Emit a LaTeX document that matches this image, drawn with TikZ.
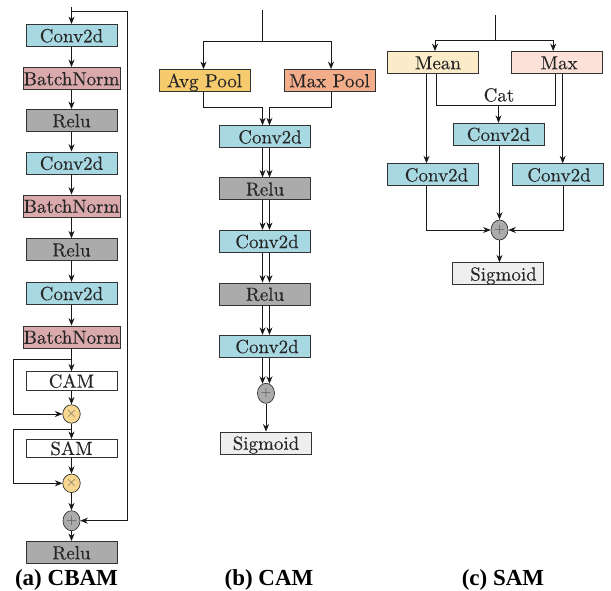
\documentclass[tikz,border=0pt]{standalone}
\usepackage{fontspec}
\newfontfamily\capfont{Liberation Serif Bold}
\newfontfamily\boxfont{lmroman10-regular.otf}[FakeBold=0.2]
\usetikzlibrary{arrows.meta,shapes.geometric,calc}
\definecolor{cblue}{HTML}{A8D8E2}
\definecolor{cpink}{HTML}{D9A9AB}
\definecolor{cgray}{HTML}{ABABAB}
\definecolor{cgold}{HTML}{F5CB6E}
\definecolor{csalmon}{HTML}{F2AD8B}
\definecolor{ccream}{HTML}{FCEBC8}
\definecolor{clpink}{HTML}{FCE1D8}
\definecolor{csig}{HTML}{EEEEEE}
\definecolor{cmul}{HTML}{F7D690}
\begin{document}
\begin{tikzpicture}[x=1pt,y=-1pt,
  box/.style={draw=black!80, line width=0.8pt, minimum width=91pt, minimum height=22pt,
    inner sep=0pt, font=\boxfont\fontsize{19}{19}\selectfont, text height=13.5pt, text depth=0pt, text=black!85},
  mulc/.style={ellipse, draw=black!80, line width=0.7pt, fill=cmul, minimum width=17.5pt,
    minimum height=18.5pt, inner sep=0pt, text=black!60, font=\fontsize{14}{14}\selectfont},
  addc/.style={ellipse, draw=black!80, line width=0.7pt, fill=cgray, minimum width=17pt,
    minimum height=20pt, inner sep=0pt, text=black!70, font=\fontsize{14}{14}\selectfont},
  arr/.style={-{Stealth[length=7.5pt,width=6pt]}, line width=0.75pt, draw=black!90},
  ln/.style={line width=0.75pt, draw=black!90},
  lab/.style={font=\boxfont\fontsize{19}{19}\selectfont, text=black!85, inner sep=0pt},
  captxt/.style={font=\capfont\fontsize{23}{23}\selectfont, inner sep=0pt, anchor=base}
]
\useasboundingbox (0,0) rectangle (611,590);

% ---------------- (a) CBAM ----------------
\node[box,fill=cblue] (a1) at (71.5,35.5) {Conv2d};
\node[box,fill=cpink,minimum width=97pt] (a2) at (71.5,78.5) {BatchNorm};
\node[box,fill=cgray] (a3) at (71.5,120.5) {Relu};
\node[box,fill=cblue] (a4) at (71.5,163) {Conv2d};
\node[box,fill=cpink,minimum width=97pt] (a5) at (71.5,206) {BatchNorm};
\node[box,fill=cgray] (a6) at (71.5,249.7) {Relu};
\node[box,fill=cblue] (a7) at (71.5,293.3) {Conv2d};
\node[box,fill=cpink,minimum width=97pt] (a8) at (71.5,337) {BatchNorm};
\node[box,fill=white,minimum height=18.5pt,text height=13.3pt] (cam) at (71.5,381) {CAM};
\node[mulc] (m1) at (71.5,414) {$\times$};
\node[box,fill=white,minimum height=18pt,text height=13.3pt] (sam) at (71.5,448.3) {SAM};
\node[mulc] (m2) at (71.5,483.3) {$\times$};
\node[addc] (p1) at (71.5,520.7) {$+$};
\node[box,fill=cgray] (a9) at (71.5,552.5) {Relu};

\coordinate (ina) at (71.5,7);
\coordinate (ta) at (127,11.7);
\draw[arr] (ina) -- (a1.north);
\draw[arr] (ina |- ta) -- (ta) |- (p1.east);
\draw[arr] (a1) -- (a2);
\draw[arr] (a2) -- (a3);
\draw[arr] (a3) -- (a4);
\draw[arr] (a4) -- (a5);
\draw[arr] (a5) -- (a6);
\draw[arr] (a6) -- (a7);
\draw[arr] (a7) -- (a8);
\draw[arr] (a8) -- (cam);
\coordinate (la) at (13,359);
\draw[arr] (a8.south |- la) -- (la) |- (m1.west);
\draw[arr] (cam) -- (m1);
\draw[arr] (m1) -- (sam);
\coordinate (lb) at (13,429.3);
\draw[arr] (m1.south |- lb) -- (lb) |- (m2.west);
\draw[arr] (sam) -- (m2);
\draw[arr] (m2) -- (p1);
\draw[arr] (p1) -- (a9);

% ---------------- (b) CAM ----------------
\node[box,fill=cgold] (avg) at (204.5,80.5) {Avg Pool};
\node[box,fill=csalmon] (mxp) at (329.5,80.5) {Max Pool};
\node[box,fill=cblue] (cb1) at (265,136.7) {\hspace*{10pt}Conv2d};
\node[box,fill=cgray] (rb1) at (265,188.8) {Relu};
\node[box,fill=cblue] (cb2) at (265,241.3) {\hspace*{4pt}Conv2d};
\node[box,fill=cgray] (rb2) at (265,294) {Relu};
\node[box,fill=cblue] (cb3) at (265,346.3) {\hspace*{4pt}Conv2d};
\node[addc] (pb) at (266,393.3) {$+$};
\node[box,fill=csig] (sgb) at (266,443) {Sigmoid};

\coordinate (inb) at (262.3,10);
\coordinate (sb) at (262.3,41.7);
\coordinate (jb) at (0,107.7);
\draw[ln] (inb) -- (sb);
\draw[arr] (sb) -| ([xshift=-1pt]avg.north);
\draw[arr] (sb) -| ([xshift=1.5pt]mxp.north);
\draw[arr] ([xshift=-1pt]avg.south) -- ([xshift=-1pt]avg.south |- jb) -| (pb.110 |- cb1.north);
\draw[arr] ([xshift=1.5pt]mxp.south) -- ([xshift=1.5pt]mxp.south |- jb) -| (pb.70 |- cb1.north);
\draw[arr] (pb.110 |- cb1.south) -- (pb.110 |- rb1.north);
\draw[arr] (pb.70 |- cb1.south) -- (pb.70 |- rb1.north);
\draw[arr] (pb.110 |- rb1.south) -- (pb.110 |- cb2.north);
\draw[arr] (pb.70 |- rb1.south) -- (pb.70 |- cb2.north);
\draw[arr] (pb.110 |- cb2.south) -- (pb.110 |- rb2.north);
\draw[arr] (pb.70 |- cb2.south) -- (pb.70 |- rb2.north);
\draw[arr] (pb.110 |- rb2.south) -- (pb.110 |- cb3.north);
\draw[arr] (pb.70 |- rb2.south) -- (pb.70 |- cb3.north);
\draw[arr] (pb.110 |- cb3.south) -- (pb.110);
\draw[arr] (pb.70 |- cb3.south) -- (pb.70);
\draw[arr] (pb) -- (sgb);

% ---------------- (c) SAM ----------------
\node[box,fill=ccream] (mean) at (432.5,62.5) {\hspace*{11pt}Mean};
\node[box,fill=clpink] (mxc) at (557.2,62.5) {\hspace*{4pt}Max};
\node[box,fill=cblue] (cc) at (498.5,134.2) {Conv2d};
\node[box,fill=cblue] (lc) at (432.5,174.7) {\hspace*{8pt}Conv2d};
\node[box,fill=cblue] (rc) at (557.5,174.7) {\hspace*{3pt}Conv2d};
\node[addc] (pc) at (499.5,230) {$+$};
\node[box,fill=csig] (sgc) at (498,273.8) {\hspace*{11pt}Sigmoid};
\node[lab,anchor=base] (cat) at (499,101.5) {Cat};

\coordinate (inc) at (495,15);
\coordinate (sc) at (495,40);
\coordinate (jc) at (0,105);
\draw[ln] (inc) -- (sc);
\draw[arr] (sc) -| ([xshift=2.5pt]mean.north);
\draw[arr] (sc) -| ([xshift=-4pt]mxc.north);
\draw[arr] ([xshift=-6pt]mean.south) -- ([xshift=-6pt]lc.north);
\draw[ln] ([xshift=4pt]mean.south) |- ([xshift=-2.2pt]mxc.south |- jc) -- ([xshift=-2.2pt]mxc.south);
\draw[arr] (cc.north |- jc) -- (cc.north);
\draw[arr] ([xshift=5.5pt]mxc.south) -- ([xshift=5.5pt]mxc.south |- rc.north);
\draw[arr] ([xshift=-6.5pt]lc.south) |- (pc.west);
\draw[arr] ([xshift=6pt]rc.south) |- (pc.east);
\draw[arr] (pc.north |- cc.south) -- (pc.north);
\draw[arr] (pc) -- (pc |- sgc.north);

% ---------------- captions ----------------
\node[captxt] (capa) at (66.5,585) {(a) CBAM};
\node[captxt] (capb) at (269,585) {(b) CAM};
\node[captxt] (capc) at (503,585) {(c) SAM};
\end{tikzpicture}
\end{document}
